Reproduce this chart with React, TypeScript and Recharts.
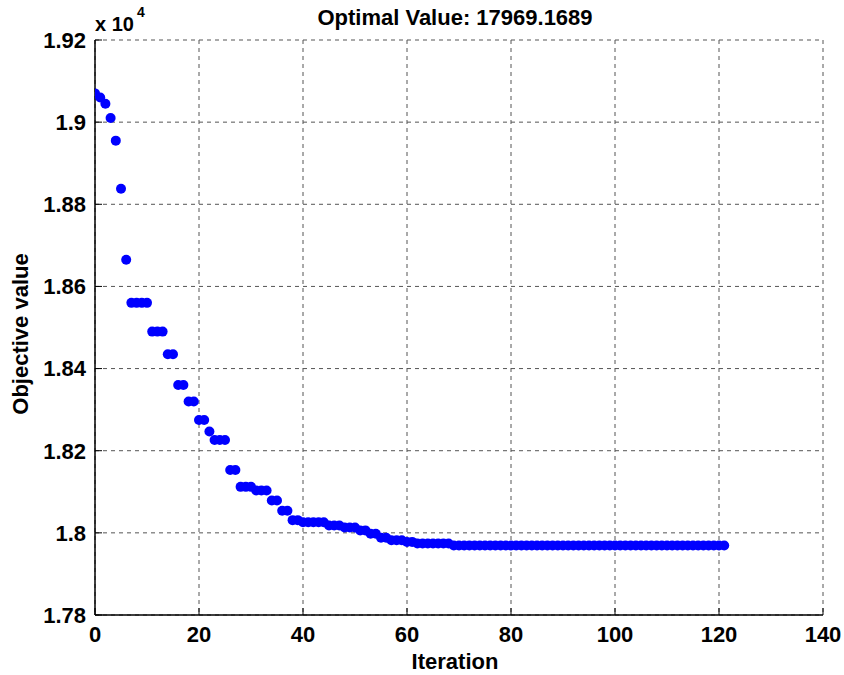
import React from 'react';
import {
  ScatterChart,
  Scatter,
  XAxis,
  YAxis,
  CartesianGrid,
} from 'recharts';

// objective value per iteration (iteration = index)
const objectiveValues: number[] = [
  19070, 19060, 19045, 19010, 18955, 18838, 18665,
  18560, 18560, 18560, 18560,
  18490, 18490, 18490,
  18435, 18435,
  18360, 18360,
  18320, 18320,
  18275, 18275,
  18247,
  18226, 18226, 18226,
  18153, 18153,
  18112, 18112, 18112,
  18103, 18103, 18103,
  18079, 18079,
  18054, 18054,
  18031, 18031,
  18026, 18026, 18026, 18026, 18026,
  18018, 18018, 18018,
  18013, 18013, 18013,
  18006, 18006,
  17998, 17998,
  17988, 17988,
  17982, 17982, 17982,
  17978, 17978,
  17974, 17974, 17974, 17974, 17974, 17974, 17974,
  17969, 17969, 17969, 17969, 17969, 17969, 17969, 17969, 17969, 17969,
  17969, 17969, 17969, 17969, 17969, 17969, 17969, 17969, 17969, 17969,
  17969, 17969, 17969, 17969, 17969, 17969, 17969, 17969, 17969, 17969,
  17969, 17969, 17969, 17969, 17969, 17969, 17969, 17969, 17969, 17969,
  17969, 17969, 17969, 17969, 17969, 17969, 17969, 17969, 17969, 17969,
  17969, 17969, 17969,
];

const xTicks = [0, 20, 40, 60, 80, 100, 120, 140];
const yTicks = [17800, 18000, 18200, 18400, 18600, 18800, 19000, 19200];

const data = objectiveValues.map((v, i) => ({ iter: i, value: v }));

const FONT = '"Liberation Sans", Arial, Helvetica, sans-serif';
const FS = 22;
const TICK_LEN = 7;

const fmtY = (v: number) => String(Number((v / 10000).toFixed(2)));

const BottomTick = (props: any) => {
  const { x, y, payload } = props;
  return (
    <g>
      <line x1={x} x2={x} y1={y - 11} y2={y - 11 - TICK_LEN} stroke="#000" />
      <text x={x} y={y} dy="0.71em" textAnchor="middle" fontFamily={FONT} fontWeight="bold" fontSize={FS} fill="#000">
        {payload.value}
      </text>
    </g>
  );
};

const LeftTick = (props: any) => {
  const { x, y, payload } = props;
  return (
    <g>
      <line x1={x + 9} x2={x + 9 + TICK_LEN} y1={y} y2={y} stroke="#000" />
      <text x={x} y={y} dy="0.355em" textAnchor="end" fontFamily={FONT} fontWeight="bold" fontSize={FS} fill="#000">
        {fmtY(payload.value)}
      </text>
    </g>
  );
};

const TopTick = (props: any) => {
  const { x, y } = props;
  return <line x1={x} x2={x} y1={y} y2={y + TICK_LEN} stroke="#000" />;
};

const RightTick = (props: any) => {
  const { x, y } = props;
  return <line x1={x} x2={x - TICK_LEN} y1={y} y2={y} stroke="#000" />;
};

const Dot = (props: any) => <circle cx={props.cx} cy={props.cy} r={5} fill="#0000FF" />;

export default function App() {
  return (
    <div style={{ position: 'fixed', left: 0, top: 0, width: 844, height: 675, background: '#fff' }}>
      <ScatterChart width={844} height={675} margin={{ top: 40, right: 21, bottom: 0, left: 0 }}>
        <CartesianGrid stroke="#555" strokeDasharray="4 4" />
        <XAxis
          xAxisId={0}
          type="number"
          dataKey="iter"
          domain={[0, 140]}
          ticks={xTicks}
          height={60}
          tickSize={0}
          tickMargin={11}
          tick={<BottomTick />}
          axisLine={{ stroke: '#000', strokeWidth: 1.5 }}
          tickLine={false}
          allowDataOverflow
        />
        <XAxis
          xAxisId="top"
          orientation="top"
          type="number"
          domain={[0, 140]}
          ticks={xTicks}
          height={0}
          tickSize={0}
          tickMargin={0}
          tick={<TopTick />}
          axisLine={{ stroke: '#000', strokeWidth: 1.5 }}
          tickLine={false}
        />
        <YAxis
          yAxisId={0}
          type="number"
          dataKey="value"
          domain={[17800, 19200]}
          ticks={yTicks}
          width={95}
          tickSize={0}
          tickMargin={9}
          tick={<LeftTick />}
          axisLine={{ stroke: '#000', strokeWidth: 1.5 }}
          tickLine={false}
          allowDataOverflow
        />
        <YAxis
          yAxisId="right"
          orientation="right"
          type="number"
          domain={[17800, 19200]}
          ticks={yTicks}
          width={0}
          tickSize={0}
          tickMargin={0}
          tick={<RightTick />}
          axisLine={{ stroke: '#000', strokeWidth: 1.5 }}
          tickLine={false}
        />
        <Scatter data={data} xAxisId={0} yAxisId={0} shape={<Dot />} isAnimationActive={false} />
      </ScatterChart>
      <svg width={844} height={675} style={{ position: 'absolute', left: 0, top: 0, pointerEvents: 'none' }}>
        <text x={455} y={25} textAnchor="middle" fontFamily={FONT} fontWeight="bold" fontSize={FS} fill="#000">
          Optimal Value: 17969.1689
        </text>
        <text x={95} y={31} fontFamily={FONT} fontWeight="bold" fontSize={20} fill="#000">
          x 10
        </text>
        <text x={137} y={17} fontFamily={FONT} fontWeight="bold" fontSize={14} fill="#000">
          4
        </text>
        <text
          x={28}
          y={334}
          textAnchor="middle"
          transform="rotate(-90 28 334)"
          fontFamily={FONT}
          fontWeight="bold"
          fontSize={FS}
          fill="#000"
        >
          Objective value
        </text>
        <text x={455} y={669} textAnchor="middle" fontFamily={FONT} fontWeight="bold" fontSize={FS} fill="#000">
          Iteration
        </text>
      </svg>
    </div>
  );
}
